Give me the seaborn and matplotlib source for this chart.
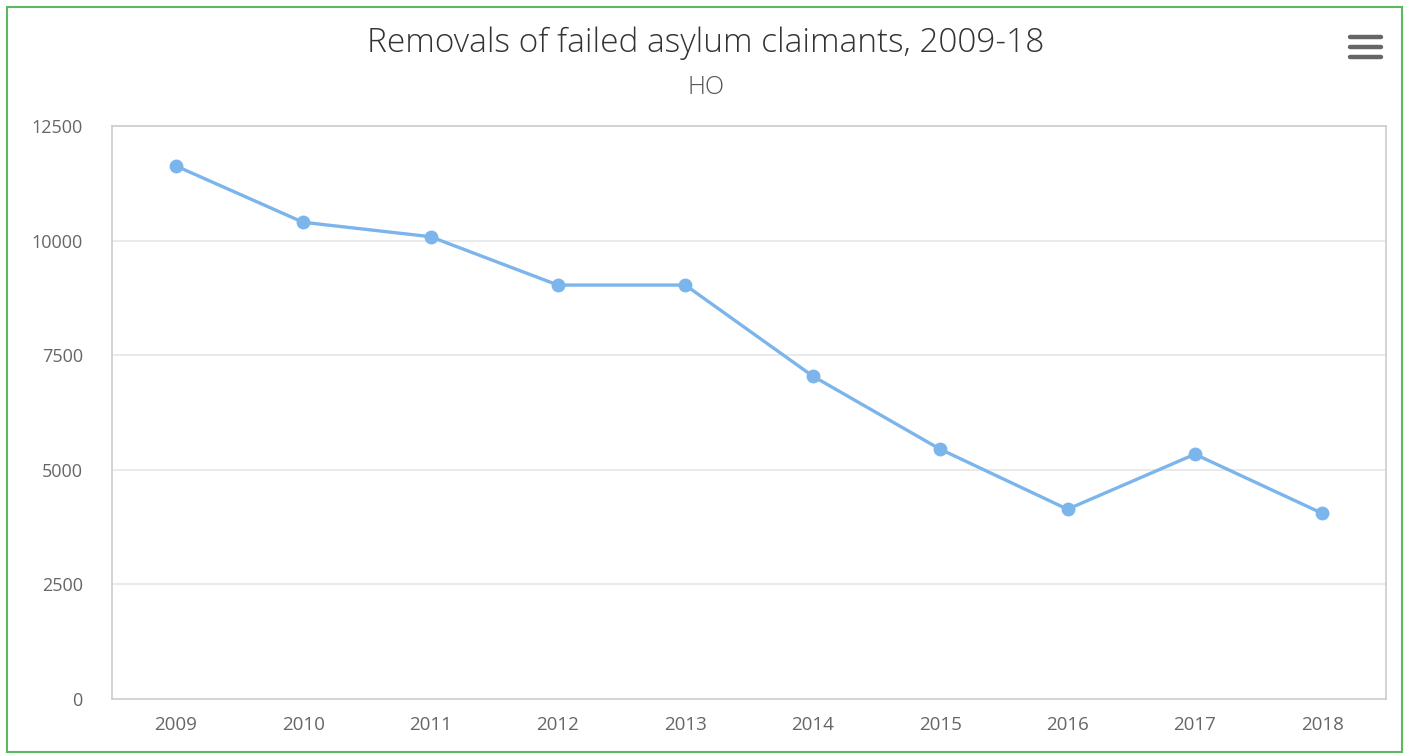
import numpy as np
import pandas as pd
import matplotlib
matplotlib.use("Agg")
import matplotlib.pyplot as plt
from matplotlib.patches import Rectangle
from matplotlib.lines import Line2D
import seaborn as sns

# data
years = ["2009", "2010", "2011", "2012", "2013", "2014", "2015", "2016", "2017", "2018"]
removals = [11630, 10400, 10085, 9030, 9030, 7045, 5450, 4140, 5340, 4050]
y_ticks = [0, 2500, 5000, 7500, 10000, 12500]

title = "Removals of failed asylum claimants, 2009-18"
subtitle = "HO"

sns.set_style("white")
plt.rcParams["font.family"] = ["Open Sans", "DejaVu Sans"]

df = pd.DataFrame({"year": years, "removals": removals})
df["pos"] = np.arange(len(df))

fig = plt.figure(figsize=(14.07, 7.56), dpi=100)
ax = fig.add_axes([112 / 1407, 1 - 699 / 756, (1386 - 112) / 1407, (699 - 126) / 756])

# horizontal grid
for t in y_ticks[1:]:
    ax.axhline(t, color="#e6e6e6", lw=1.2, zorder=0)

sns.lineplot(data=df, x="pos", y="removals", ax=ax, color="#7cb5ec", lw=2.4,
             marker="o", markersize=10, markeredgewidth=0, zorder=3)

ax.set_xlim(-0.5, len(years) - 0.5)
ax.set_ylim(0, 12500)
ax.set_yticks(y_ticks)
ax.set_yticklabels([str(t) for t in y_ticks])
ax.set_xticks(df["pos"])
ax.set_xticklabels(years)
ax.set_xticks(np.arange(-0.5, len(years)), minor=True)
ax.tick_params(axis="x", which="major", length=0, pad=12, labelsize=13.5, labelcolor="#666666")
ax.tick_params(axis="x", which="minor", length=12, width=1.1, color="#cccccc")
ax.tick_params(axis="y", length=0, pad=21, labelsize=13, labelcolor="#666666")
ax.set_xlabel("")
ax.set_ylabel("")
for s in ax.spines.values():
    s.set_color("#cccccc")
    s.set_linewidth(1.2)

# titles
fig.text(706 / 1407, 1 - 43 / 756, title, ha="center", va="center",
         fontsize=24, color="#333333", fontweight="light")
fig.text(706 / 1407, 1 - 87 / 756, subtitle, ha="center", va="center",
         fontsize=18, color="#555555", fontweight="light")

# menu icon
for yy in [37, 47, 57]:
    fig.add_artist(Line2D([1350 / 1407, 1381 / 1407], [1 - yy / 756, 1 - yy / 756],
                          color="#666666", lw=3.2, solid_capstyle="round"))

# green frame
fig.add_artist(Rectangle((7 / 1407, 4 / 756), 1395 / 1407, 745 / 756,
                         fill=False, edgecolor="#5cb85c", lw=1.5))

fig.savefig("out.png", dpi=100)
